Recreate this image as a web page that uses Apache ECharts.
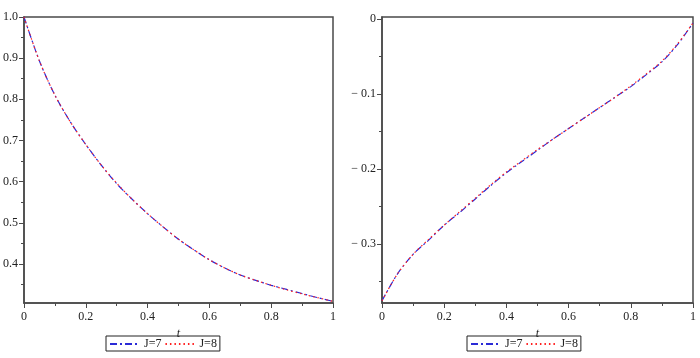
<!DOCTYPE html>
<html>
<head>
<meta charset="utf-8">
<script src="https://cdn.jsdelivr.net/npm/echarts@6/dist/echarts.min.js"></script>
<style>html,body{margin:0;padding:0;background:#fff}#c{width:700px;height:358px}</style>
</head>
<body>
<div id="c"></div>
<script>
var tValues = [0,0.05,0.1,0.15,0.2,0.25,0.3,0.35,0.4,0.45,0.5,0.55,0.6,0.65,0.7,0.75,0.8,0.85,0.9,0.95,1.0];
var leftJ7 = [1.0,0.893,0.81,0.745,0.69,0.64,0.595,0.557,0.522,0.49,0.46,0.434,0.41,0.39,0.373,0.36,0.348,0.338,0.328,0.318,0.309];
var leftJ8 = [1.0,0.893,0.81,0.745,0.69,0.64,0.596,0.557,0.522,0.49,0.46,0.434,0.41,0.39,0.373,0.36,0.348,0.337,0.327,0.318,0.309];
var rightJ7 = [-0.376,-0.34,-0.314,-0.295,-0.275,-0.258,-0.24,-0.222,-0.205,-0.19,-0.175,-0.16,-0.146,-0.132,-0.118,-0.104,-0.09,-0.074,-0.057,-0.034,-0.005];
var rightJ8 = [-0.376,-0.34,-0.314,-0.294,-0.275,-0.257,-0.239,-0.221,-0.204,-0.189,-0.174,-0.16,-0.146,-0.132,-0.118,-0.104,-0.089,-0.073,-0.056,-0.033,-0.005];
var xTicks = [0,0.2,0.4,0.6,0.8,1];
var leftYTicks = [0.4,0.5,0.6,0.7,0.8,0.9,1.0];
var leftYMinor = [0.35,0.45,0.55,0.65,0.75,0.85,0.95];
var rightYTicks = [-0.3,-0.2,-0.1,0];
var rightYMinor = [-0.35,-0.25,-0.15,-0.05];
var seriesNames = ['J=7','J=8'];

function pairs(ys){ return tValues.map(function(t,i){ return [t, ys[i]]; }); }

var FONT = 'Liberation Serif';
var AX = '#4a4a4a';
function fmtX(v){ return v === 0 ? '0' : (v === 1 ? '1' : String(v)); }
function fmtYL(v){ return v.toFixed(1); }
function fmtYR(v){ return v === 0 ? '0' : '\u2212 ' + Math.abs(v).toFixed(1); }

function xAxisFor(gi){
  return {
    type:'value', gridIndex:gi, min:0, max:1, interval:0.2,
    name:'t', nameLocation:'middle', nameGap:24,
    nameTextStyle:{fontFamily:FONT, fontStyle:'italic', fontSize:12, color:'#222'},
    axisLine:{show:true, onZero:false, lineStyle:{color:AX, width:1.5}},
    axisTick:{show:true, inside:false, length:5, customValues:xTicks, lineStyle:{color:AX, width:1}},
    minorTick:{show:true, splitNumber:2, length:3, lineStyle:{color:AX, width:1}},
    axisLabel:{fontFamily:FONT, fontSize:12, color:'#222', margin:8, customValues:xTicks, formatter:fmtX},
    splitLine:{show:false}
  };
}
function yMajor(gi, mn, mx, ticks, fmt){
  return {
    type:'value', gridIndex:gi, min:mn, max:mx, position:'left',
    axisLine:{show:true, onZero:false, lineStyle:{color:AX, width:1.5}},
    axisTick:{show:true, length:5, customValues:ticks, lineStyle:{color:AX, width:1}},
    axisLabel:{fontFamily:FONT, fontSize:12, color:'#222', margin:6, customValues:ticks, formatter:fmt},
    splitLine:{show:false}
  };
}
function yMinor(gi, mn, mx, ticks){
  return {
    type:'value', gridIndex:gi, min:mn, max:mx, position:'left',
    axisLine:{show:false, onZero:false},
    axisTick:{show:true, length:3, customValues:ticks, lineStyle:{color:AX, width:1}},
    axisLabel:{show:false, customValues:ticks},
    splitLine:{show:false}
  };
}
function lineSeries(name, xi, yi, ys){
  var isJ7 = name === 'J=7';
  return {
    name:name, type:'line', xAxisIndex:xi, yAxisIndex:yi, data:pairs(ys),
    showSymbol:false, symbol:'none', smooth:0.3, animation:false, z: isJ7 ? 2 : 3,
    lineStyle: isJ7 ? {color:'#2b2bd6', width:1.2, type:[7,3,2,3]} : {color:'#ff2020', width:1.2, type:[1.5,3]},
    itemStyle:{color: isJ7 ? '#2b2bd6' : '#ff2020'}
  };
}
function legendFor(left){
  return {
    data:seriesNames, left:left, top:336, orient:'horizontal',
    borderColor:'#222', borderWidth:1, padding:[2,3,1,3],
    itemWidth:29, itemHeight:10, itemGap:3,
    itemStyle:{opacity:0},
    textStyle:{fontFamily:FONT, fontSize:12, color:'#222'},
    selectedMode:false
  };
}

var chart = echarts.init(document.getElementById('c'), null, {renderer:'canvas'});
chart.setOption({
  animation:false,
  backgroundColor:'#fff',
  grid:[
    {left:23, top:17, width:310, height:286, show:true, borderColor:AX, borderWidth:1.5, backgroundColor:'transparent'},
    {left:382, top:17, width:311, height:286, show:true, borderColor:AX, borderWidth:1.5, backgroundColor:'transparent'}
  ],
  xAxis:[xAxisFor(0), xAxisFor(1)],
  yAxis:[
    yMajor(0, 0.305, 1.0, leftYTicks, fmtYL),
    yMinor(0, 0.305, 1.0, leftYMinor),
    yMajor(1, -0.379, 0.003, rightYTicks, fmtYR),
    yMinor(1, -0.379, 0.003, rightYMinor)
  ],
  legend:[legendFor(106), legendFor(467)],
  series:[
    lineSeries('J=7', 0, 0, leftJ7),
    lineSeries('J=8', 0, 0, leftJ8),
    lineSeries('J=7', 1, 2, rightJ7),
    lineSeries('J=8', 1, 2, rightJ8)
  ]
});
</script>
</body>
</html>
